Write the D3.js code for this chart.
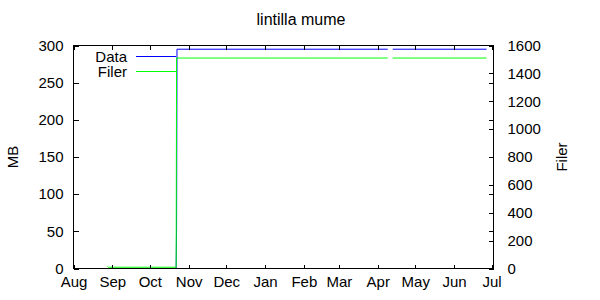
<!DOCTYPE html>
<html>
<head>
<meta charset="utf-8">
<script src="https://cdn.jsdelivr.net/npm/d3@7"></script>
<style>
  html, body { margin: 0; padding: 0; background: #fff; }
  svg { display: block; font-family: "Liberation Sans", Arial, sans-serif; }
</style>
</head>
<body>
<svg id="chart" width="600" height="300"></svg>
<script>
// ---- data ----
const title = "lintilla mume";
const seriesNames = ["Data", "Filer"];
const dates = ["2010-08-28T00:00", "2010-08-28T18:00", "2010-10-22T00:00", "2010-10-22T08:00",
               "2010-10-22T16:00", "2011-04-09T00:00", "2011-04-11T00:00", "2011-04-13T00:00",
               "2011-06-27T00:00"];
const dataMB = [0, 0, 0, 55, 295, 295, null, 295, 295];
const filer = [15, 9, 9, 1510, 1510, 1510, null, 1510, 1510];
const yTicks = [0, 50, 100, 150, 200, 250, 300];
const y2Ticks = [0, 200, 400, 600, 800, 1000, 1200, 1400, 1600];
const xDomain = ["2010-08-01T00:00", "2011-07-02T12:00"];

// ---- layout ----
const svg = d3.select("#chart");
const pLeft = 73.5, pRight = 493.5, pTop = 45.5, pBottom = 268.5;
const fs = 15;

const x = d3.scaleTime().domain(xDomain.map(s => new Date(s))).range([pLeft, pRight]);
const y = d3.scaleLinear().domain([0, 300]).range([pBottom, pTop]);
const y2 = d3.scaleLinear().domain([0, 1600]).range([pBottom, pTop]);

const pts = dates.map((d, i) => ({ t: new Date(d), mb: dataMB[i], f: filer[i] }));

// data lines
const lineMB = d3.line().defined(d => d.mb != null).x(d => x(d.t)).y(d => y(d.mb));
const lineF = d3.line().defined(d => d.f != null).x(d => x(d.t)).y(d => y2(d.f));

svg.append("path").datum(pts).attr("d", lineMB)
  .attr("fill", "none").attr("stroke", "#0000ff").attr("stroke-width", 1);
svg.append("path").datum(pts).attr("d", lineF)
  .attr("fill", "none").attr("stroke", "#00ff00").attr("stroke-width", 1);

// axes
const monthTicks = d3.timeMonth.range(new Date(2010, 7, 1), new Date(2011, 6, 2));
const axisG = svg.append("g").attr("shape-rendering", "crispEdges");

axisG.append("g").attr("transform", `translate(0,${pBottom})`)
  .call(d3.axisBottom(x).tickValues(monthTicks).tickFormat(d3.timeFormat("%b")).tickSizeInner(-4).tickSizeOuter(0).tickPadding(8))
  .call(g => g.select(".domain").remove());
axisG.append("g").attr("transform", `translate(0,${pTop})`)
  .call(d3.axisTop(x).tickValues(monthTicks).tickFormat("").tickSizeInner(-4).tickSizeOuter(0))
  .call(g => g.select(".domain").remove());
axisG.append("g").attr("transform", `translate(${pLeft},0)`)
  .call(d3.axisLeft(y).tickValues(yTicks).tickFormat(d3.format("d")).tickSizeInner(-5).tickSizeOuter(0).tickPadding(10))
  .call(g => g.select(".domain").remove());
axisG.append("g").attr("transform", `translate(${pRight},0)`)
  .call(d3.axisRight(y).tickValues(yTicks).tickFormat("").tickSizeInner(-5).tickSizeOuter(0))
  .call(g => g.select(".domain").remove());
axisG.append("g").attr("transform", `translate(${pRight},0)`)
  .call(d3.axisRight(y2).tickValues(y2Ticks).tickFormat(d3.format("d")).tickSizeInner(-5).tickSizeOuter(0).tickPadding(14))
  .call(g => g.select(".domain").remove());

axisG.selectAll("text").attr("font-size", fs).attr("fill", "#000")
  .attr("font-family", "Liberation Sans, Arial, sans-serif");
axisG.selectAll(".tick line").attr("stroke", "#000");

// border
axisG.append("rect").attr("x", pLeft).attr("y", pTop)
  .attr("width", pRight - pLeft).attr("height", pBottom - pTop)
  .attr("fill", "none").attr("stroke", "#000").attr("stroke-width", 1);

// title & axis labels
svg.append("text").attr("x", 301).attr("y", 25).attr("text-anchor", "middle")
  .attr("font-size", 16).text(title);
svg.append("text").attr("transform", `translate(18,157) rotate(-90)`)
  .attr("text-anchor", "middle").attr("font-size", fs).text("MB");
svg.append("text").attr("transform", `translate(567,157) rotate(-90)`)
  .attr("text-anchor", "middle").attr("font-size", fs).text("Filer");

// legend
const legendColors = ["#0000ff", "#00ff00"];
const legY = [56.5, 71.5];
seriesNames.forEach((name, i) => {
  svg.append("text").attr("x", 127).attr("y", legY[i]).attr("dy", "0.35em")
    .attr("text-anchor", "end").attr("font-size", fs).text(name);
  svg.append("line").attr("x1", 136).attr("x2", 176).attr("y1", legY[i]).attr("y2", legY[i])
    .attr("stroke", legendColors[i]).attr("stroke-width", 1).attr("shape-rendering", "crispEdges");
});
</script>
</body>
</html>
